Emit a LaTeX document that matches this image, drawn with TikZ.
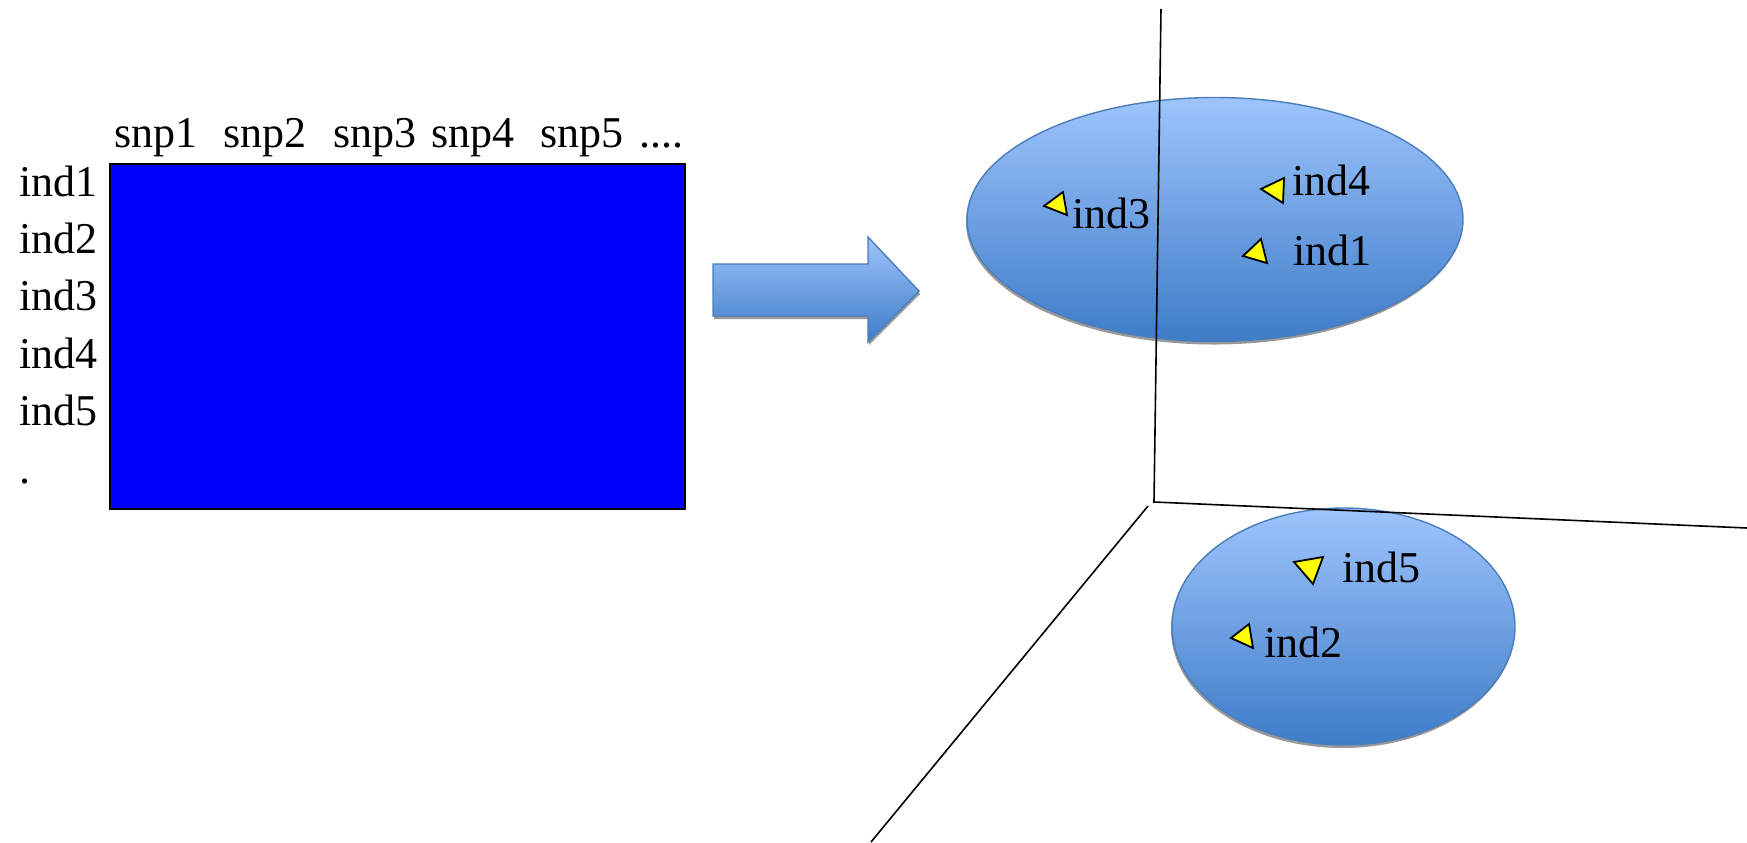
\documentclass[tikz,border=0pt]{standalone}
\usepackage{fontspec}
\setmainfont{Liberation Serif}
\usetikzlibrary{shapes.geometric}
\definecolor{matblue}{RGB}{0,0,255}
\definecolor{elltop}{RGB}{158,196,252}
\definecolor{ellbot}{RGB}{62,124,200}
\definecolor{ellline}{RGB}{74,126,187}
\definecolor{triyellow}{RGB}{255,255,0}
\tikzset{
 lbl/.style={anchor=base west, inner sep=0pt, font=\fontsize{22}{26}\selectfont},
 tribox/.style={fill=triyellow, draw=black, line width=0.9pt, line join=miter},
 axisline/.style={draw=black, line width=0.8pt},
 blob/.style={ellipse, inner sep=0pt, top color=elltop, bottom color=ellbot, draw=ellline, line width=0.7pt},
 blobshadow/.style={ellipse, inner sep=0pt, fill=black!40, draw=none},
 matrixbox/.style={rectangle, inner sep=0pt, fill=matblue, draw=black, line width=1pt},
 bigarrow/.style={top color=elltop, bottom color=ellbot, draw=ellline, line width=0.7pt, line join=miter},
}
\begin{document}
\begin{tikzpicture}[x=0.5pt,y=-0.5pt]
\useasboundingbox (0,0) rectangle (1747,842);
% data matrix
\node[matrixbox, minimum width=287.5pt, minimum height=172.5pt] (mat) at (397.5,336.5) {};
\node[lbl] (c1) at (114,147) {snp1};
\node[lbl] (c2) at (223,147) {snp2};
\node[lbl] (c3) at (333,147) {snp3};
\node[lbl] (c4) at (431,147) {snp4};
\node[lbl] (c5) at (540,147) {snp5};
\node[lbl] (c6) at (639,147) {....};
\node[lbl] (r1) at (19,196) {ind1};
\node[lbl] (r2) at (19,253) {ind2};
\node[lbl] (r3) at (19,310) {ind3};
\node[lbl] (r4) at (19,368) {ind4};
\node[lbl] (r5) at (19,425) {ind5};
\node[lbl] (r6) at (19,483) {.};
% block arrow
\fill[black!40] (714,267) -- (869,267) -- (869,240) -- (920,294) -- (869,345) -- (869,319) -- (714,319) -- cycle;
\path[bigarrow] (713,264) -- (868,264) -- (868,237) -- (919,291) -- (868,342) -- (868,316) -- (713,316) -- cycle;
% clusters
\node[blobshadow, minimum width=248pt, minimum height=122pt] (s1) at (1214,222.5) {};
\node[blob, minimum width=248pt, minimum height=122pt] (e1) at (1215,219.5) {};
\node[blobshadow, minimum width=171.5pt, minimum height=118.5pt] (s2) at (1342.5,629.5) {};
\node[blob, minimum width=171.5pt, minimum height=118.5pt] (e2) at (1343.5,626.5) {};
% axes
\coordinate (O) at (1154,502);
\coordinate (ztop) at (1161,9);
\coordinate (xend) at (1747,528);
\coordinate (dstart) at (1148,506);
\coordinate (dend) at (871,842);
\draw[axisline] (ztop) -- (O) -- (xend);
\draw[axisline] (dstart) -- (dend);
% points
\draw[tribox] (1044,206) -- (1063,192) -- (1067,215) -- cycle;
\draw[tribox] (1261,189) -- (1284,178) -- (1283,203) -- cycle;
\draw[tribox] (1243,256) -- (1261,239) -- (1267,263) -- cycle;
\draw[tribox] (1294,562) -- (1323,557) -- (1313,584) -- cycle;
\draw[tribox] (1231,638) -- (1249,624) -- (1253,648) -- cycle;
\node[lbl] (p3) at (1072,228) {ind3};
\node[lbl] (p4) at (1292,195) {ind4};
\node[lbl] (p1) at (1293,265) {ind1};
\node[lbl] (p5) at (1342,582) {ind5};
\node[lbl] (p2) at (1264,657) {ind2};
\end{tikzpicture}
\end{document}
